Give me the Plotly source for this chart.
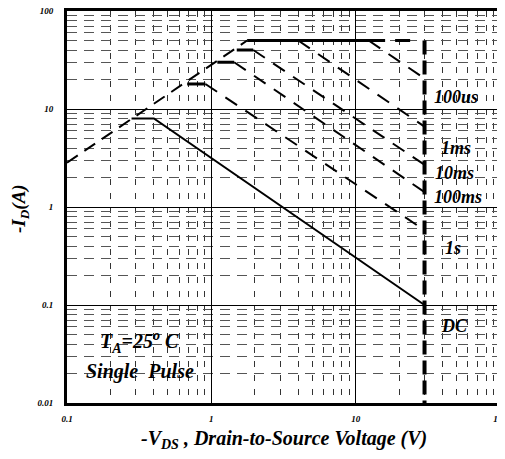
import numpy as np
import plotly.graph_objects as go

# ---- data ----
rds_v = [0.1, 1.77]
rds_i = [2.83, 50]

pulse_v = [1.77, 30]
pulse_i = [50, 50]

bv_v = [30, 30]
bv_i = [50, 0.01]

us100_v = [12.3, 30]
us100_i = [50, 20.5]

ms1_v = [4.0, 30]
ms1_i = [50, 6.6]

ms10_flat_v = [1.5, 1.95]
ms10_flat_i = [40, 40]
ms10_v = [1.95, 30]
ms10_i = [40, 2.7]

ms100_flat_v = [1.1, 1.44]
ms100_flat_i = [30, 30]
ms100_v = [1.44, 30]
ms100_i = [30, 1.42]

s1_flat_v = [0.68, 0.91]
s1_flat_i = [18, 18]
s1_v = [0.91, 30]
s1_i = [18, 0.58]

dc_v = [0.28, 0.4, 30]
dc_i = [8, 8, 0.1]

x_ticks = [0.1, 1, 10, 100]
x_ticktext = ["0.1", "1", "10", "100"]
y_ticks = [0.01, 0.1, 1, 10, 100]
y_ticktext = ["0.01", "0.1", "1", "10", "100"]

labels = ["100us", "1ms", "10ms", "100ms", "1s", "DC"]
label_v = [34.0, 37.5, 34.5, 34.0, 40.5, 37.5]
label_i = [13.2, 4.0, 2.2, 1.26, 0.38, 0.061]

minor_vals_x = [m * 10.0 ** e for e in (-1, 0, 1) for m in range(2, 10)]
minor_vals_y = [m * 10.0 ** e for e in (-2, -1, 0, 1) for m in range(2, 10)]

FONT = "Times New Roman, Liberation Serif, serif"

fig = go.Figure()

def line(x, y, width=2, dash="solid"):
    fig.add_trace(go.Scatter(x=x, y=y, mode="lines",
                             line=dict(color="black", width=width, dash=dash),
                             hoverinfo="skip", showlegend=False))

line(rds_v, rds_i, 2, "13px,8px")
line(pulse_v, pulse_i, 3, "138px,10px,15px,20px")
line(bv_v, bv_i, 4, "14px,6px")
line(us100_v, us100_i, 2, "14px,10px")
line(ms1_v, ms1_i, 2, "14px,10px")
line(ms10_flat_v, ms10_flat_i, 3)
line(ms10_v, ms10_i, 2, "14px,10px")
line(ms100_flat_v, ms100_flat_i, 3)
line(ms100_v, ms100_i, 2, "14px,10px")
line(s1_flat_v, s1_flat_i, 3)
line(s1_v, s1_i, 2, "14px,10px")
line(dc_v, dc_i, 2)

tickfont = dict(family=FONT, size=9, color="black", weight="bold", style="italic")

fig.update_xaxes(type="log", range=[-1, 2], automargin=False,
                 tickvals=x_ticks, ticktext=x_ticktext, tickfont=tickfont,
                 ticks="", ticklabelstandoff=5, ticklabeloverflow="allow",
                 showgrid=True, gridcolor="black", gridwidth=1,
                 showline=True, linecolor="black", linewidth=3, mirror=True,
                 zeroline=False,
                 minor=dict(tickvals=minor_vals_x, showgrid=True, gridcolor="#333",
                            gridwidth=1, griddash="6px,8px", ticks=""))
fig.update_yaxes(type="log", range=[-2, 2], automargin=False,
                 tickvals=y_ticks, ticktext=y_ticktext, tickfont=tickfont,
                 ticks="", ticklabelstandoff=9, ticklabeloverflow="allow",
                 showgrid=True, gridcolor="black", gridwidth=1,
                 showline=True, linecolor="black", linewidth=3, mirror=True,
                 zeroline=False,
                 minor=dict(tickvals=minor_vals_y, showgrid=True, gridcolor="#555",
                            gridwidth=1, griddash="10px,7px", ticks=""))

annots = []
lab_font = dict(family=FONT, size=18, color="black", weight="bold", style="italic")
big_font = dict(family=FONT, size=20, color="black", weight="bold", style="italic")
for t, v, i in zip(labels, label_v, label_i):
    annots.append(dict(x=np.log10(v), y=np.log10(i), xref="x", yref="y", text=t,
                       showarrow=False, xanchor="left", yanchor="middle", font=lab_font))

annots.append(dict(x=np.log10(0.316), y=np.log10(0.042), xref="x", yref="y",
                   text="T<sub>A</sub>=25<sup>o</sup> C", showarrow=False,
                   xanchor="center", yanchor="middle", font=big_font))
annots.append(dict(x=np.log10(0.32), y=np.log10(0.021), xref="x", yref="y",
                   text="Single  Pulse", showarrow=False,
                   xanchor="center", yanchor="middle", font=big_font))

xtitle_font = dict(family=FONT, size=20, color="black", weight="bold", style="italic")
ytitle_font = dict(family=FONT, size=19, color="black", weight="bold", style="italic")
annots.append(dict(x=-0.1085, y=0.495, xref="paper", yref="paper",
                   text="-I<sub>D</sub>(A)", textangle=-90, showarrow=False,
                   xanchor="center", yanchor="middle", font=ytitle_font))
annots.append(dict(x=0.5, y=-0.094, xref="paper", yref="paper",
                   text="-V<sub>DS</sub> , Drain-to-Source Voltage (V)", showarrow=False,
                   xanchor="center", yanchor="middle", font=xtitle_font))

# page body has an 8px default margin, so margins are offset to compensate
fig.update_layout(width=505, height=459,
                  margin=dict(l=59, r=13, t=3, b=64),
                  paper_bgcolor="white", plot_bgcolor="white",
                  annotations=annots, showlegend=False)

fig.write_html("out.html")
